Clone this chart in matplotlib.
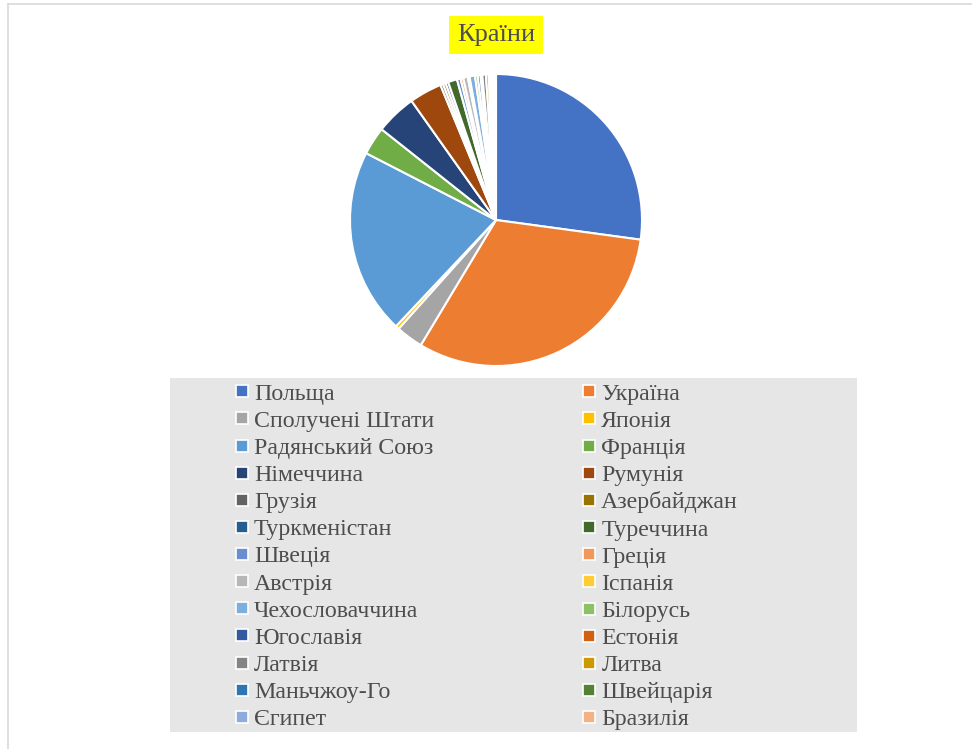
import matplotlib
matplotlib.use("Agg")
import matplotlib.pyplot as plt
from matplotlib.patches import Rectangle
from matplotlib.lines import Line2D

title = "Країни"
countries = ["Польща", "Україна", "Сполучені Штати", "Японія", "Радянський Союз",
             "Франція", "Німеччина", "Румунія", "Грузія", "Азербайджан",
             "Туркменістан", "Туреччина", "Швеція", "Греція", "Австрія",
             "Іспанія", "Чехословаччина", "Білорусь", "Югославія", "Естонія",
             "Латвія", "Литва", "Маньчжоу-Го", "Швейцарія", "Єгипет", "Бразилія"]
shares = [27.1, 31.4, 3.0, 0.4, 20.5,
          3.1, 4.5, 3.6, 0.3, 0.3,
          0.3, 1.0, 0.4, 0.3, 0.5,
          0.2, 0.6, 0.3, 0.3, 0.2,
          0.4, 0.3, 0.2, 0.2, 0.2, 0.2]
colors = ["#4472C4", "#ED7D31", "#A5A5A5", "#FFC000", "#5B9BD5",
          "#70AD47", "#264478", "#9E480E", "#636363", "#997300",
          "#255E91", "#43682B", "#698ED0", "#F1975A", "#B7B7B7",
          "#FFCD33", "#7CAFDD", "#8CC168", "#335AA1", "#D26012",
          "#848484", "#CC9A00", "#2E75B6", "#548235", "#8FAADC", "#F4B183"]

W, H = 972, 749
fig = plt.figure(figsize=(W / 100, H / 100), dpi=100)
fig.patch.set_facecolor("white")

# chart border (left and top)
fig.add_artist(Line2D([8 / W, 8 / W], [0, 1 - 4 / H], transform=fig.transFigure,
                      color="#D9D9D9", lw=1.2))
fig.add_artist(Line2D([8 / W, 1], [1 - 4 / H, 1 - 4 / H], transform=fig.transFigure,
                      color="#D9D9D9", lw=1.2))

# pie
cx, cy, r = 496, 220, 146
ax = fig.add_axes([(cx - r) / W, (H - cy - r) / H, 2 * r / W, 2 * r / H])
ax.pie(shares, colors=colors, startangle=90, counterclock=False,
       wedgeprops=dict(edgecolor="white", linewidth=1.5))
ax.set_xlim(-1.0, 1.0)
ax.set_ylim(-1.0, 1.0)
ax.set_aspect("auto")
ax.axis("off")

# title
fig.text(496 / W, 1 - 35 / H, title, ha="center", va="center",
         fontsize=19, family="Liberation Serif", color="#4D4D4D",
         bbox=dict(boxstyle="square,pad=0.3", facecolor="#FFFF00", edgecolor="none"))

# legend background
fig.add_artist(Rectangle((170 / W, 1 - 732 / H), (857 - 170) / W, (732 - 378) / H,
                         transform=fig.transFigure, facecolor="#E7E6E6",
                         edgecolor="none", zorder=0))

handles = [Line2D([], [], marker="s", linestyle="none", markersize=9,
                  markerfacecolor=c, markeredgecolor="white", markeredgewidth=1.2)
           for c in colors]
order = list(range(0, len(countries), 2)) + list(range(1, len(countries), 2))
leg = fig.legend([handles[i] for i in order], [countries[i] for i in order],
                 ncol=2, loc="upper left",
                 bbox_to_anchor=(236 / W, 1 - 383 / H),
                 frameon=False, prop=dict(family="Liberation Serif", size=17.2),
                 labelcolor="#4D4D4D", handlelength=0.5, handletextpad=0.25,
                 columnspacing=6.25, labelspacing=0.226, borderpad=0,
                 borderaxespad=0)

fig.savefig("out.png", dpi=100, facecolor="white")
